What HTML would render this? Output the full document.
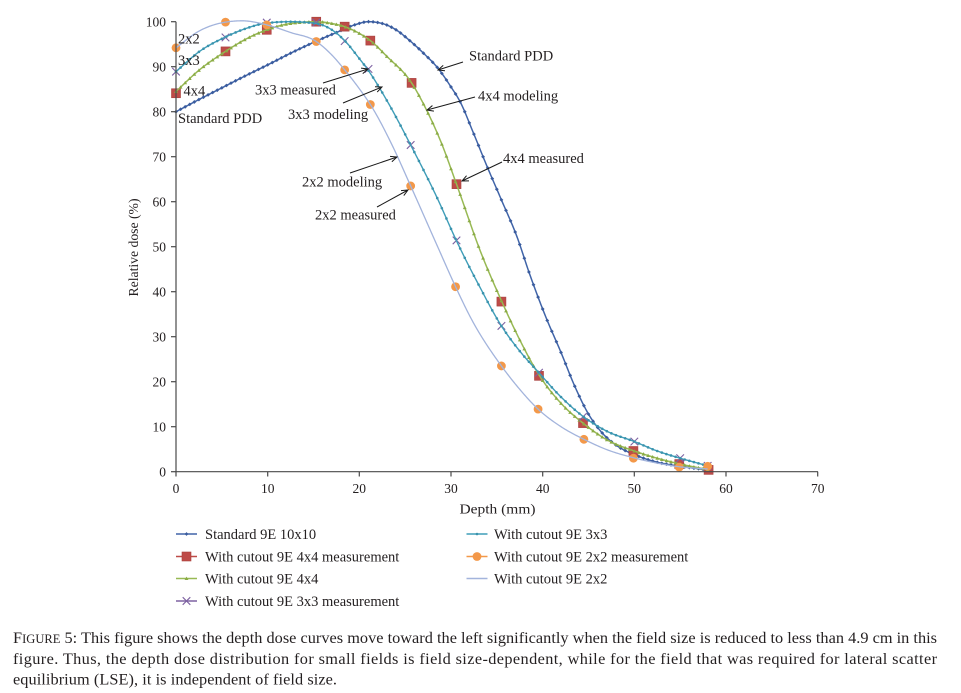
<!DOCTYPE html>
<html><head><meta charset="utf-8">
<style>
html,body{margin:0;padding:0;background:#fff;}
svg{display:block;}
text{font-family:"Liberation Serif",serif;fill:#231f20;}
</style></head>
<body>
<svg id="s" width="961" height="693" viewBox="0 0 961 693" xmlns="http://www.w3.org/2000/svg">
<rect width="961" height="693" fill="#fff"/>
<g id="plot"></g>
<!-- axes -->
<g stroke="#4a4a4a" stroke-width="1.2" fill="none">
<line x1="176" y1="21.7" x2="176" y2="472.3"/>
<line x1="175.4" y1="471.7" x2="818" y2="471.7"/>
<line x1="171" y1="21.7" x2="176" y2="21.7"/>
<line x1="171" y1="66.7" x2="176" y2="66.7"/>
<line x1="171" y1="111.7" x2="176" y2="111.7"/>
<line x1="171" y1="156.7" x2="176" y2="156.7"/>
<line x1="171" y1="201.7" x2="176" y2="201.7"/>
<line x1="171" y1="246.7" x2="176" y2="246.7"/>
<line x1="171" y1="291.7" x2="176" y2="291.7"/>
<line x1="171" y1="336.7" x2="176" y2="336.7"/>
<line x1="171" y1="381.7" x2="176" y2="381.7"/>
<line x1="171" y1="426.7" x2="176" y2="426.7"/>
<line x1="171" y1="471.7" x2="176" y2="471.7"/>
<line x1="176" y1="471.7" x2="176" y2="476.5"/>
<line x1="267.7" y1="471.7" x2="267.7" y2="476.5"/>
<line x1="359.3" y1="471.7" x2="359.3" y2="476.5"/>
<line x1="451" y1="471.7" x2="451" y2="476.5"/>
<line x1="542.7" y1="471.7" x2="542.7" y2="476.5"/>
<line x1="634.3" y1="471.7" x2="634.3" y2="476.5"/>
<line x1="726" y1="471.7" x2="726" y2="476.5"/>
<line x1="817.7" y1="471.7" x2="817.7" y2="476.5"/>
</g>
<g font-size="13.5" text-anchor="end">
<text x="166" y="26.5">100</text>
<text x="166" y="71.5">90</text>
<text x="166" y="116.5">80</text>
<text x="166" y="161.5">70</text>
<text x="166" y="206.5">60</text>
<text x="166" y="251.5">50</text>
<text x="166" y="296.5">40</text>
<text x="166" y="341.5">30</text>
<text x="166" y="386.5">20</text>
<text x="166" y="431.5">10</text>
<text x="166" y="476.5">0</text>
</g>
<g font-size="13.5" text-anchor="middle">
<text x="176" y="493">0</text>
<text x="267.7" y="493">10</text>
<text x="359.3" y="493">20</text>
<text x="451" y="493">30</text>
<text x="542.7" y="493">40</text>
<text x="634.3" y="493">50</text>
<text x="726" y="493">60</text>
<text x="817.7" y="493">70</text>
</g>
<text x="459.5" y="513.5" font-size="14" textLength="76" lengthAdjust="spacingAndGlyphs">Depth (mm)</text>
<text transform="translate(138,247.5) rotate(-90)" x="-49" y="0" font-size="13.5" textLength="98" lengthAdjust="spacingAndGlyphs">Relative dose (%)</text>

<!-- annotations -->
<g font-size="14.5">
<text x="178" y="43.3">2x2</text>
<text x="178" y="65">3x3</text>
<text x="183.5" y="95.7">4x4</text>
<text x="178" y="123">Standard PDD</text>
<text x="255" y="94.3">3x3 measured</text>
<text x="288" y="119">3x3 modeling</text>
<text x="469" y="60.7">Standard PDD</text>
<text x="478" y="100.5">4x4 modeling</text>
<text x="503" y="163">4x4 measured</text>
<text x="302" y="186.5">2x2 modeling</text>
<text x="315" y="219.5">2x2 measured</text>
</g>
<g id="arrows" stroke="#1a1a1a" stroke-width="1" fill="none"></g>

<!-- legend -->
<g id="legend"></g>
<g font-size="14.5">
<text x="205" y="539">Standard 9E 10x10</text>
<text x="205" y="561.5">With cutout 9E 4x4 measurement</text>
<text x="205" y="583.5">With cutout 9E 4x4</text>
<text x="205" y="606">With cutout 9E 3x3 measurement</text>
<text x="494" y="539">With cutout 9E 3x3</text>
<text x="494" y="561.5">With cutout 9E 2x2 measurement</text>
<text x="494" y="583.5">With cutout 9E 2x2</text>
</g>

<!-- caption -->
<g font-size="16.3">
<text x="13" y="643" textLength="924" lengthAdjust="spacing"><tspan>F</tspan><tspan font-size="12.5">IGURE</tspan> 5: This figure shows the depth dose curves move toward the left significantly when the field size is reduced to less than 4.9 cm in this</text>
<text x="13" y="664" textLength="924" lengthAdjust="spacing">figure. Thus, the depth dose distribution for small fields is field size-dependent, while for the field that was required for lateral scatter</text>
<text x="13" y="684.5" textLength="324" lengthAdjust="spacing">equilibrium (LSE), it is independent of field size.</text>
</g>
</svg>
<script>
(function(){
var NS="http://www.w3.org/2000/svg";
var plot=document.getElementById('plot');
var X=function(d){return 176+d*9.1667;}, Y=function(v){return 471.7-v*4.5;};
function el(tag,attrs,parent){var e=document.createElementNS(NS,tag);for(var k in attrs)e.setAttribute(k,attrs[k]);(parent||plot).appendChild(e);return e;}
function mono(pts){
 var n=pts.length,xs=[],ys=[],h=[],s=[],m=[],i;
 for(i=0;i<n;i++){xs.push(pts[i][0]);ys.push(pts[i][1]);}
 for(i=0;i<n-1;i++){h[i]=xs[i+1]-xs[i];s[i]=(ys[i+1]-ys[i])/h[i];}
 m[0]=s[0];m[n-1]=s[n-2];
 for(i=1;i<n-1;i++){
  if(s[i-1]*s[i]<=0)m[i]=0;
  else{var p=(s[i-1]*h[i]+s[i]*h[i-1])/(h[i-1]+h[i]);
   m[i]=(s[i]>0?2:-2)*Math.min(Math.abs(s[i-1]),Math.abs(s[i]),0.5*Math.abs(p));}
 }
 return function(x){
  var i=0;while(i<n-2&&x>xs[i+1])i++;
  var t=(x-xs[i])/h[i],t2=t*t,t3=t2*t;
  return (2*t3-3*t2+1)*ys[i]+(t3-2*t2+t)*h[i]*m[i]+(-2*t3+3*t2)*ys[i+1]+(t3-t2)*h[i]*m[i+1];
 };
}
function path(f,a,b){var s='';for(var i=0;i<=Math.round((b-a)*10);i++){var d=a+i/10;s+=(i?'L':'M')+X(d).toFixed(2)+','+Y(f(d)).toFixed(2);}return s;}
function diamond(x,y,r,c,g){el('path',{d:'M'+x+','+(y-r)+'L'+(x+r)+','+y+'L'+x+','+(y+r)+'L'+(x-r)+','+y+'Z',fill:c},g);}
function tri(x,y,r,c,g){el('path',{d:'M'+x+','+(y-r)+'L'+(x+r)+','+(y+r*0.8)+'L'+(x-r)+','+(y+r*0.8)+'Z',fill:c},g);}
function dot(x,y,r,c,g){el('circle',{cx:x,cy:y,r:r,fill:c},g);}
function sq(x,y,r,g){el('rect',{x:x-r,y:y-r,width:2*r,height:2*r,fill:'#BE4B48',stroke:'#A8403D','stroke-width':0.6},g);}
function circ(x,y,r,g){el('circle',{cx:x,cy:y,r:r,fill:'#F39849'},g);}
function xm(x,y,r,g){el('path',{d:'M'+(x-r)+','+(y-r)+'L'+(x+r)+','+(y+r)+'M'+(x-r)+','+(y+r)+'L'+(x+r)+','+(y-r),stroke:'#7E62A2','stroke-width':1.1,fill:'none'},g);}

var blue=mono([[0,80],[2.5,82.7],[5,85.3],[7.5,87.9],[10,90.4],[12.5,93],[15,95.4],[17.5,97.6],[19.5,99.3],[21,100],[22.5,99.6],[24,98.2],[25.5,95.8],[27,93],[28.6,89.6],[30,85.5],[31,82.2],[32.4,75.5],[33.9,68],[35.5,60.4],[37.2,52.2],[38.6,43.8],[40.3,34.6],[42,26.5],[43.5,19],[45,12.8],[46.5,8.6],[48,5.9],[50,3.8],[52.5,2.1],[55,1.2],[58,0.4]]);
var green=mono([[0,84.5],[2.5,89.2],[5.4,93.4],[7.5,96],[9.9,98.2],[12.5,99.6],[15.3,100],[17,99.6],[18.4,98.9],[20,97.4],[21.2,95.8],[23,92.3],[25.7,86.4],[27.3,80.5],[29,72.8],[30.6,63.9],[33.3,48.5],[35.5,38],[37.5,29.3],[39.6,21.5],[42,15.2],[44.4,10.8],[47,7.1],[50,4.6],[52.5,3],[55,1.7],[58,0.5]]);
var teal=mono([[0,88.9],[2.5,93.3],[5.4,96.6],[7.5,98.4],[9.9,99.7],[12.5,100],[15.3,99.6],[17,98.2],[18.4,95.8],[20,91.8],[20.9,89.4],[23,82.5],[25.6,72.6],[28.5,60.8],[30.6,51.3],[33,41.6],[35.5,32.4],[37.5,26.8],[39.5,22.2],[42,16.6],[44.4,12.3],[47,9],[50,6.7],[52.5,4.6],[55,3],[58,1.3]]);
var lav=mono([[0,94.2],[2.5,97.9],[5.4,99.9],[7.2,100.2],[9.9,99.3],[12.5,97.6],[15.3,95.6],[17,92.6],[18.4,89.3],[20,85.1],[21.2,81.6],[23.5,72.9],[25.6,63.5],[28.5,50.2],[30.5,41.1],[32.1,34.4],[35.5,23.5],[37.5,18.3],[39.5,13.9],[42,10],[44.5,7.2],[47,4.9],[49.9,3.1],[52.5,1.9],[54.9,1.1],[58,0.6]]);

var red=[[0,84.1],[5.4,93.4],[9.9,98.2],[15.3,100],[18.4,98.9],[21.2,95.8],[25.7,86.4],[30.6,63.9],[35.5,37.8],[39.6,21.3],[44.4,10.8],[49.9,4.6],[54.9,1.7],[58.1,0.4]];
var purp=[[0,88.9],[5.4,96.5],[9.9,99.8],[15.3,99.8],[18.4,95.7],[21,89.5],[25.6,72.6],[30.6,51.4],[35.5,32.4],[39.6,22],[44.4,12.2],[50,6.7],[55,3],[58,1.3]];
var orng=[[0,94.2],[5.4,99.9],[9.9,99.3],[15.3,95.6],[18.4,89.3],[21.2,81.6],[25.6,63.5],[30.5,41.1],[35.5,23.5],[39.5,13.9],[44.5,7.2],[49.9,3],[54.9,1],[58,1.2]];

var i,d;
el('path',{d:path(blue,0,58),stroke:'#4064A8','stroke-width':1.5,fill:'none'});
for(i=0;i<=116;i++){d=i/2;diamond(X(d),Y(blue(d)),1.9,'#3A5C9E');}
for(i=0;i<red.length;i++)sq(X(red[i][0]),Y(red[i][1]),4.5);
el('path',{d:path(green,0,58),stroke:'#98B954','stroke-width':1.5,fill:'none'});
for(i=0;i<=116;i++){d=i/2;tri(X(d),Y(green(d)),1.9,'#8AAB45');}
for(i=0;i<purp.length;i++)xm(X(purp[i][0]),Y(purp[i][1]),3.8);
el('path',{d:path(teal,0,58),stroke:'#3F9DB8','stroke-width':1.4,fill:'none'});
for(i=0;i<=116;i++){d=i/2;dot(X(d),Y(teal(d)),1.3,'#3A93AD');}
for(i=0;i<orng.length;i++)circ(X(orng[i][0]),Y(orng[i][1]),4.4);
el('path',{d:path(lav,0,58),stroke:'#A3B4DC','stroke-width':1.3,fill:'none'});

var ag=document.getElementById('arrows');
var arrows=[[323,83,368,69],[343,103,382,87],[463,62,438,70],[475,97,427,110],[502,162,462,181],[350,173,397,157],[377,207,408,190]];
for(i=0;i<arrows.length;i++){
 var a=arrows[i],x1=a[0],y1=a[1],x2=a[2],y2=a[3];
 var ang=Math.atan2(y1-y2,x1-x2),L=7,w=0.42;
 var p1=[x2+L*Math.cos(ang+w),y2+L*Math.sin(ang+w)],p2=[x2+L*Math.cos(ang-w),y2+L*Math.sin(ang-w)];
 el('path',{d:'M'+x1+','+y1+'L'+x2+','+y2+'M'+p1[0].toFixed(2)+','+p1[1].toFixed(2)+'L'+x2+','+y2+'L'+p2[0].toFixed(2)+','+p2[1].toFixed(2)},ag);
}

var lg=document.getElementById('legend');
function lline(x,y,c){el('line',{x1:x,y1:y,x2:x+21,y2:y,stroke:c,'stroke-width':1.4},lg);}
lline(176,534,'#4064A8');diamond(186.5,534,1.9,'#3A5C9E',lg);
lline(176,556.5,'#BE4B48');sq(186.5,556.5,4.5,lg);
lline(176,578.5,'#98B954');tri(186.5,578.5,1.9,'#8AAB45',lg);
lline(176,601,'#7E62A2');xm(186.5,601,3.8,lg);
lline(466.5,534,'#3F9DB8');dot(477,534,1.3,'#3A93AD',lg);
lline(466.5,556.5,'#F39849');circ(477,556.5,4.4,lg);
lline(466.5,578.5,'#A3B4DC');
})();
</script>
</body></html>
